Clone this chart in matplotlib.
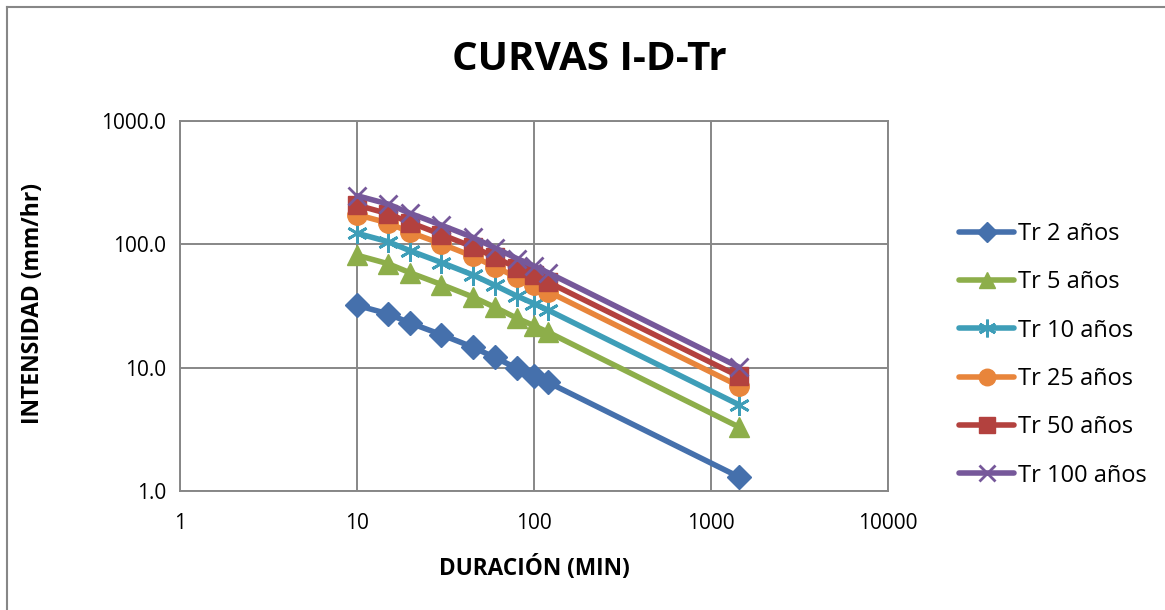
import matplotlib
matplotlib.use("Agg")
import matplotlib.pyplot as plt
from matplotlib.lines import Line2D
from matplotlib.ticker import FixedLocator, FixedFormatter, NullLocator

plt.rcParams['font.family'] = ['Open Sans', 'DejaVu Sans']

durations = [10, 15, 20, 30, 45, 60, 80, 100, 120, 1440]
tr2 = [32.0, 27.3, 23.0, 18.5, 14.7, 12.1, 9.9, 8.6, 7.6, 1.3]
tr5 = [81.6, 69.6, 58.7, 47.2, 37.5, 30.9, 25.2, 21.9, 19.4, 3.3]
tr10 = [123.0, 105.0, 88.6, 71.2, 56.6, 46.6, 38.1, 33.1, 29.3, 5.0]
tr25 = [174.0, 149.0, 125.0, 101.0, 80.1, 65.9, 54.0, 46.9, 41.4, 7.1]
tr50 = [208.0, 177.0, 150.0, 120.0, 95.6, 78.7, 64.4, 55.9, 49.4, 8.5]
tr100 = [248.0, 212.0, 178.0, 143.0, 114.0, 93.8, 76.7, 66.7, 58.9, 10.1]

labels = ["Tr 2 años", "Tr 5 años", "Tr 10 años", "Tr 25 años", "Tr 50 años", "Tr 100 años"]
x_ticks = [1, 10, 100, 1000, 10000]
x_ticklabels = ["1", "10", "100", "1000", "10000"]
y_ticks = [1, 10, 100, 1000]
y_ticklabels = ["1.0", "10.0", "100.0", "1000.0"]

series = [tr2, tr5, tr10, tr25, tr50, tr100]
colors = ["#4570AC", "#8DAE4A", "#3E9EB8", "#E8853B", "#B3413E", "#76589A"]
markers = ["D", "^", (6, 2, 0), "o", "s", "x"]
msizes = [12, 14, 15, 14, 13, 13]
mews = [1, 1, 2.0, 1, 1, 2.0]

fig = plt.figure(figsize=(11.65, 6.10), dpi=100)
ax = fig.add_axes([180/1165, 1-491/610, (888-180)/1165, (491-121)/610])

for ys, c, m, ms, mew, lab in zip(series, colors, markers, msizes, mews, labels):
    ax.plot(durations, ys, color=c, lw=4.0, marker=m, ms=ms, mew=mew,
            mec=c, mfc=c, label=lab, solid_capstyle='round', zorder=3)

ax.set_xscale('log')
ax.set_yscale('log')
ax.set_xlim(1, 10000)
ax.set_ylim(1, 1000)
ax.xaxis.set_major_locator(FixedLocator(x_ticks))
ax.xaxis.set_major_formatter(FixedFormatter(x_ticklabels))
ax.yaxis.set_major_locator(FixedLocator(y_ticks))
ax.yaxis.set_major_formatter(FixedFormatter(y_ticklabels))
ax.xaxis.set_minor_locator(NullLocator())
ax.yaxis.set_minor_locator(NullLocator())
ax.tick_params(axis='x', length=0, labelsize=15, pad=16, colors='black')
ax.tick_params(axis='y', length=0, labelsize=15, pad=10, colors='black')
ax.grid(True, color='#878787', lw=1.4, zorder=0)
for s in ax.spines.values():
    s.set_color('#878787')
    s.set_linewidth(1.4)

fig.text(534/1165, 1-568/610, "DURACIÓN (MIN)", fontsize=16.3, fontweight='bold',
         ha='center', va='center')
fig.text(33/1165, 1-304/610, "INTENSIDAD (mm/hr)", fontsize=16.5, fontweight='bold',
         ha='center', va='center', rotation=90)
fig.text(589/1165, 1-60/610, "CURVAS I-D-Tr", fontsize=29, fontweight='bold',
         ha='center', va='center')

handles = [Line2D([0], [0], color=c, lw=4.0, marker=m, ms=ms*0.85, mew=mew, mec=c, mfc=c,
                  solid_capstyle='round')
           for c, m, ms, mew in zip(colors, markers, msizes, mews)]
fig.legend(handles, labels, loc='upper left', bbox_to_anchor=(959/1165, 1-222/610),
           frameon=False, fontsize=17, handlelength=2.35, handletextpad=0.13,
           labelspacing=1.03, borderaxespad=0, borderpad=0)

fig.add_artist(Line2D([7/1165, 7/1165], [0, 1-7/610], color='#878787', lw=1.5))
fig.add_artist(Line2D([7/1165, 1], [1-7/610, 1-7/610], color='#878787', lw=1.5))

fig.savefig("out.png", dpi=100)
